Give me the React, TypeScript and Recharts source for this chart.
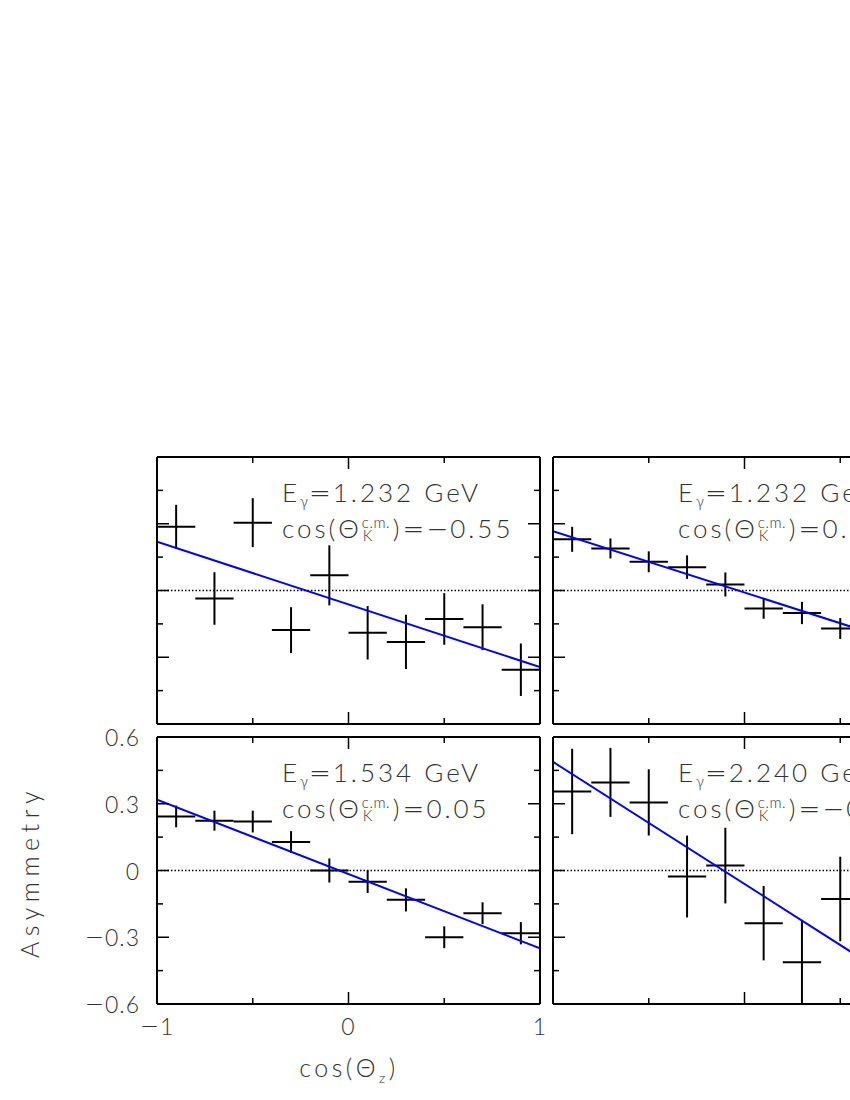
import React from 'react';
import { ComposedChart, XAxis, YAxis, Scatter, ErrorBar, ReferenceLine } from 'recharts';

// bin centres in cos(theta_z) and half widths
const xBins = [-0.9, -0.7, -0.5, -0.3, -0.1, 0.1, 0.3, 0.5, 0.7, 0.9];
const xHalf = [0.1, 0.1, 0.1, 0.1, 0.1, 0.1, 0.1, 0.1, 0.1, 0.1];

// top left: E=1.232, cos=-0.55
const asymTL = [0.286, -0.036, 0.305, -0.178, 0.068, -0.19, -0.231, -0.128, -0.165, -0.356];
const errTL = [0.099, 0.118, 0.11, 0.103, 0.135, 0.12, 0.122, 0.116, 0.103, 0.118];
const fitTL = [0.219, -0.344];

// top right: E=1.232, cos=0.35
const asymTR = [0.23, 0.189, 0.129, 0.105, 0.027, -0.081, -0.101, -0.171, -0.23, -0.27];
const errTR = [0.056, 0.045, 0.047, 0.053, 0.054, 0.046, 0.05, 0.047, 0.05, 0.055];
const fitTR = [0.267, -0.285];

// bottom left: E=1.534, cos=0.05
const asymBL = [0.243, 0.224, 0.22, 0.128, 0.0, -0.05, -0.132, -0.3, -0.192, -0.282];
const errBL = [0.049, 0.045, 0.049, 0.049, 0.054, 0.051, 0.052, 0.049, 0.049, 0.05];
const fitBL = [0.318, -0.35];

// bottom right: E=2.240, cos=-0.25
const asymBR = [0.355, 0.396, 0.306, -0.027, 0.022, -0.237, -0.412, -0.128, -0.3, -0.45];
const errBR = [0.192, 0.155, 0.149, 0.184, 0.17, 0.167, 0.19, 0.19, 0.2, 0.2];
const fitBR = [0.488, -0.609];

const xTicks = [-1, -0.5, 0, 0.5, 1];
const xMajor = [-1, 0, 1];
const yTicks = [-0.6, -0.45, -0.3, -0.15, 0, 0.15, 0.3, 0.45, 0.6];
const yMajor = [-0.6, -0.3, 0, 0.3, 0.6];

const energies = ['1.232', '1.232', '1.534', '2.240'];
const cosK = ['\u22120.55', '0.35', '0.05', '\u22120.25'];

const FONT = 'Lato, "DejaVu Sans", sans-serif';
const SYM = '"DejaVu Sans ExtraLight", "DejaVu Sans", sans-serif';
const TXT = '#333';
const PW = 383;
const PH = 267;
const M = { top: 20, right: 10, bottom: 50, left: 85 };

const isIn = (list: number[], v: number) => list.some((m) => Math.abs(m - v) < 1e-9);

const TickText = ({ v, ...rest }: any) => {
  const neg = v < -1e-9;
  const body = Math.abs(v) < 1e-9 ? '0' : Math.abs(v).toString();
  return (
    <text {...rest} dominantBaseline="central" fontSize={23} letterSpacing={1} fontFamily={FONT} fontWeight={300} fill={TXT}>
      {neg && (
        <tspan fontFamily={SYM} fontWeight={200}>
          {'\u2212'}
        </tspan>
      )}
      {body}
    </text>
  );
};

const mkTick = (side: 'b' | 't' | 'l' | 'r', showLabel: boolean) => (props: any) => {
  const { x, y, payload } = props;
  const v = payload.value;
  const major = isIn(side === 'b' || side === 't' ? xMajor : yMajor, v);
  const len = major ? 12 : 6;
  let x2 = x;
  let y2 = y;
  if (side === 'b') y2 = y - len;
  if (side === 't') y2 = y + len;
  if (side === 'l') x2 = x + len;
  if (side === 'r') x2 = x - len;
  let label = null;
  if (showLabel && major) {
    label =
      side === 'b' ? (
        <TickText v={v} x={x} y={y + 22} textAnchor="middle" />
      ) : (
        <TickText v={v} x={x - 17} y={y} textAnchor="end" />
      );
  }
  return (
    <g>
      <line x1={x} y1={y} x2={x2} y2={y2} stroke="#000" strokeWidth={1.5} />
      {label}
    </g>
  );
};

const frame = { stroke: '#000', strokeWidth: 2 };

interface PanelProps {
  pl: number;
  pt: number;
  ys: number[];
  es: number[];
  fit: number[];
  showX: boolean;
  showY: boolean;
}

const Panel: React.FC<PanelProps> = ({ pl, pt, ys, es, fit, showX, showY }) => {
  const data = xBins.map((x, i) => ({ x, y: ys[i], ex: xHalf[i], ey: es[i] }));
  const W = M.left + 1 + PW + M.right;
  const H = M.top + PH + 1 + M.bottom;
  return (
    <div style={{ position: 'absolute', left: pl - M.left - 1, top: pt - M.top }}>
      <ComposedChart width={W} height={H} margin={M}>
        <XAxis xAxisId="b" type="number" dataKey="x" domain={[-1, 1]} allowDataOverflow ticks={xTicks} interval={0}
          height={1} tickSize={0} tickMargin={0} tickLine={false} axisLine={frame} tick={mkTick('b', showX)} />
        <XAxis xAxisId="t" orientation="top" mirror type="number" dataKey="x" domain={[-1, 1]} allowDataOverflow ticks={xTicks} interval={0}
          height={1} tickSize={0} tickMargin={0} tickLine={false} axisLine={frame} tick={mkTick('t', false)} />
        <YAxis yAxisId="l" type="number" dataKey="y" domain={[-0.6, 0.6]} allowDataOverflow ticks={yTicks} interval={0}
          width={1} tickSize={0} tickMargin={0} tickLine={false} axisLine={frame} tick={mkTick('l', showY)} />
        <YAxis yAxisId="r" orientation="right" mirror type="number" dataKey="y" domain={[-0.6, 0.6]} allowDataOverflow ticks={yTicks} interval={0}
          width={1} tickSize={0} tickMargin={0} tickLine={false} axisLine={frame} tick={mkTick('r', false)} />
        <ReferenceLine xAxisId="b" yAxisId="l" y={0} stroke="#000" strokeWidth={1.5} strokeDasharray="1.5 2" />
        <Scatter xAxisId="t" yAxisId="r" data={data} shape={() => <g />} isAnimationActive={false} />
        <Scatter xAxisId="b" yAxisId="l" data={data} shape={() => <g />} isAnimationActive={false}>
          <ErrorBar dataKey="ey" direction="y" width={0} stroke="#000" strokeWidth={2} />
          <ErrorBar dataKey="ex" direction="x" width={0} stroke="#000" strokeWidth={2} />
        </Scatter>
        <ReferenceLine xAxisId="b" yAxisId="l" segment={[{ x: -1, y: fit[0] }, { x: 1, y: fit[1] }]}
          stroke="#0000ee" strokeWidth={2} ifOverflow="hidden" />
      </ComposedChart>
    </div>
  );
};

// wide symbols (=, minus) like the original plotting font
const Sym: React.FC<{ ch: string }> = ({ ch }) => (
  <span style={{ fontFamily: SYM, fontWeight: 200, letterSpacing: 2 }}>{ch}</span>
);

const Annot: React.FC<{ pl: number; pt: number; e: string; c: string }> = ({ pl, pt, e, c }) => (
  <div style={{ position: 'absolute', left: pl + 125, top: pt + 19, fontFamily: FONT, fontWeight: 300, fontSize: 26,
    lineHeight: '32px', letterSpacing: 3, color: TXT, whiteSpace: 'nowrap' }}>
    <div>
      E<span style={{ fontSize: 15, position: 'relative', top: 5, letterSpacing: 1 }}>γ</span>
      <Sym ch="=" />{e} GeV
    </div>
    <div>
      cos(Θ
      <span style={{ display: 'inline-block', position: 'relative', width: 31, height: 0 }}>
        <span style={{ position: 'absolute', left: 0, top: -23, fontSize: 15, lineHeight: '14px', letterSpacing: 0.5 }}>c.m.</span>
        <span style={{ position: 'absolute', left: 1, top: -10, fontSize: 15, lineHeight: '14px' }}>K</span>
      </span>
      )<Sym ch="=" />
      {c.startsWith('\u2212') ? (
        <>
          <Sym ch={'\u2212'} />
          {c.slice(1)}
        </>
      ) : (
        c
      )}
    </div>
  </div>
);

const panels = [
  { pl: 157, pt: 457, ys: asymTL, es: errTL, fit: fitTL, showX: false, showY: false },
  { pl: 553, pt: 457, ys: asymTR, es: errTR, fit: fitTR, showX: false, showY: false },
  { pl: 157, pt: 737, ys: asymBL, es: errBL, fit: fitBL, showX: true, showY: true },
  { pl: 553, pt: 737, ys: asymBR, es: errBR, fit: fitBR, showX: false, showY: false },
];

export default function App() {
  return (
    <div style={{ position: 'absolute', left: 0, top: 0, width: 850, height: 1100, overflow: 'hidden', background: '#fff' }}>
      {panels.map((p, i) => (
        <Panel key={i} {...p} />
      ))}
      {panels.map((p, i) => (
        <Annot key={'a' + i} pl={p.pl} pt={p.pt} e={energies[i]} c={cosK[i]} />
      ))}
      <div style={{ position: 'absolute', left: 29, top: 872, transform: 'translate(-50%, -50%) rotate(-90deg)',
        fontFamily: FONT, fontWeight: 300, fontSize: 25, letterSpacing: 5.5, color: TXT, whiteSpace: 'nowrap' }}>
        Asymmetry
      </div>
      <div style={{ position: 'absolute', left: 349, top: 1067, transform: 'translate(-50%, -50%)',
        fontFamily: FONT, fontWeight: 300, fontSize: 25, letterSpacing: 3.5, color: TXT, whiteSpace: 'nowrap' }}>
        cos(Θ<span style={{ fontSize: 14, position: 'relative', top: 6 }}>z</span>)
      </div>
    </div>
  );
}
